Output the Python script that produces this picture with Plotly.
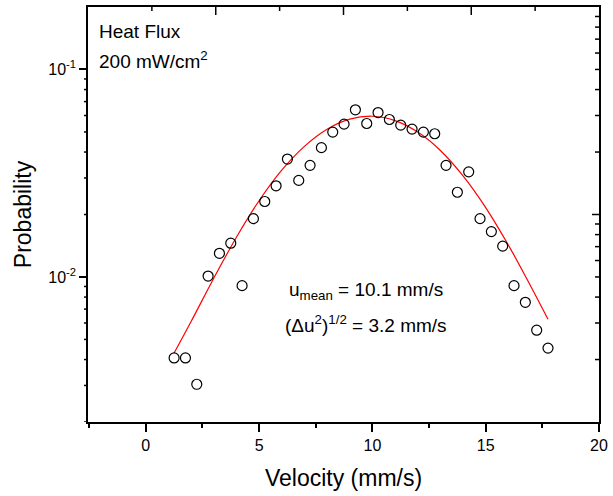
import plotly.graph_objects as go

# Measured data points (velocity in mm/s, probability)
velocity = [1.25, 1.75, 2.25, 2.75, 3.25, 3.75, 4.25, 4.75, 5.25, 5.75,
            6.25, 6.75, 7.25, 7.75, 8.25, 8.75, 9.25, 9.75, 10.25, 10.75,
            11.25, 11.75, 12.25, 12.75, 13.25, 13.75, 14.25, 14.75, 15.25, 15.75,
            16.25, 16.75, 17.25, 17.75]
probability = [0.00407, 0.00407, 0.00304, 0.0101, 0.0130, 0.01455, 0.00908, 0.0191, 0.0231, 0.0275,
               0.0370, 0.0292, 0.0345, 0.0420, 0.0499, 0.0545, 0.0639, 0.0549, 0.0620, 0.0574,
               0.0539, 0.0516, 0.0499, 0.0490, 0.0345, 0.0256, 0.0321, 0.0191, 0.01654, 0.01408,
               0.00908, 0.00755, 0.00554, 0.00454]

# Fitted curve
fit_velocity = [1.25, 2, 3, 4, 5, 6, 7, 8, 9, 10, 11, 12, 13, 14, 15, 16, 17, 17.75]
fit_probability = [0.0043, 0.0061, 0.00986, 0.01555, 0.0233, 0.0327, 0.0426, 0.0515, 0.0576,
                   0.0595, 0.0567, 0.0499, 0.0407, 0.0307, 0.0216, 0.01425, 0.00897, 0.00625]

x_tick_vals = [0, 5, 10, 15, 20]
x_tick_text = ["0", "5", "10", "15", "20"]
x_minor_vals = [-2.5, 2.5, 7.5, 12.5, 17.5]
y_tick_vals = [0.01, 0.1]
y_tick_text = ["10<sup>-2</sup>", "10<sup>-1</sup>"]
y_minor_vals = [0.002, 0.003, 0.004, 0.005, 0.006, 0.007, 0.008, 0.009,
                0.02, 0.03, 0.04, 0.05, 0.06, 0.07, 0.08, 0.09]
# mirrored (top / right) frame ticks: the original's mirror axes are offset
top_scale_max = 4                      # top frame runs 0..4 in its own units
top_major_vals = [1, 2, 3]
top_minor_vals = [0.5, 1.5, 2.5, 3.5]
right_offset = 2                       # right frame decades are shifted by a factor of 2
right_major_vals = [0.01]
right_minor_vals = [0.002, 0.003, 0.004, 0.005, 0.006, 0.007, 0.008, 0.009,
                    0.02, 0.03, 0.04, 0.05, 0.06, 0.07, 0.08, 0.09]

FONT = "Arial, 'Liberation Sans', sans-serif"
Y_RANGE = [-2.69897, -0.69897]
TICK_LINE = dict(color="black", width=1.5)

fig = go.Figure()
fig.add_trace(go.Scatter(
    x=fit_velocity, y=fit_probability, mode="lines",
    line=dict(color="#ff0000", width=1.2, shape="spline", smoothing=1.0),
    showlegend=False, hoverinfo="skip"))
fig.add_trace(go.Scatter(
    x=velocity, y=probability, mode="markers",
    marker=dict(symbol="circle-open", size=10, color="black", line=dict(width=1.2, color="black")),
    showlegend=False))

line_style = dict(showline=True, mirror=True, linecolor="black", linewidth=1.6,
                  showgrid=False, zeroline=False, tickcolor="black", tickwidth=1.5)

fig.update_layout(
    width=613, height=496,
    margin=dict(l=88, r=10, t=5, b=74),
    paper_bgcolor="white", plot_bgcolor="white",
    font=dict(family=FONT, color="black"),
    xaxis=dict(range=[-2.55, 20], tickmode="array", tickvals=x_tick_vals,
               ticktext=x_tick_text, ticks="outside", ticklen=8,
               minor=dict(tickmode="array", tickvals=x_minor_vals,
                          ticks="outside", ticklen=4, tickwidth=1.5, tickcolor="black"),
               tickfont=dict(size=16, family=FONT),
               title=dict(text="Velocity (mm/s)", font=dict(size=23, family=FONT), standoff=17),
               **line_style),
    yaxis=dict(type="log", range=Y_RANGE, tickmode="array",
               tickvals=y_tick_vals, ticktext=y_tick_text,
               ticks="outside", ticklen=7,
               tickfont=dict(size=16, family=FONT),
               title=dict(text="Probability", font=dict(size=23, family=FONT), standoff=10),
               **line_style),
)

# left minor ticks (outside)
for v in y_minor_vals:
    fig.add_shape(type="line", xref="paper", yref="y", xsizemode="pixel", xanchor=0,
                  x0=-4, x1=0, y0=v, y1=v, line=TICK_LINE, layer="above")
# right frame ticks (inside), shifted decades
for v, ln in [(v, 7) for v in right_major_vals] + [(v, 4) for v in right_minor_vals]:
    fig.add_shape(type="line", xref="paper", yref="y", xsizemode="pixel", xanchor=1,
                  x0=-ln, x1=0, y0=v * right_offset, y1=v * right_offset,
                  line=TICK_LINE, layer="above")
# top frame ticks (inside)
for v, ln in [(v, 8) for v in top_major_vals] + [(v, 4) for v in top_minor_vals]:
    fig.add_shape(type="line", xref="paper", yref="paper", ysizemode="pixel", yanchor=1,
                  x0=v / top_scale_max, x1=v / top_scale_max, y0=-ln, y1=0,
                  line=TICK_LINE, layer="above")

ann_font = dict(size=19, family=FONT, color="black")
fig.add_annotation(text="Heat Flux", xref="paper", yref="paper", x=0.0175, y=0.940,
                   xanchor="left", yanchor="middle", showarrow=False, font=ann_font)
fig.add_annotation(text="200 mW/cm<sup>2</sup>", xref="paper", yref="paper", x=0.0175, y=0.873,
                   xanchor="left", yanchor="middle", showarrow=False, font=ann_font)
fig.add_annotation(text="u<sub>mean</sub> = 10.1 mm/s", xref="paper", yref="paper", x=0.544, y=0.3165,
                   xanchor="center", yanchor="middle", showarrow=False, font=ann_font)
fig.add_annotation(text="(\u0394u<sup>2</sup>)<sup>1/2</sup> = 3.2 mm/s", xref="paper", yref="paper",
                   x=0.544, y=0.236, xanchor="center", yanchor="middle", showarrow=False, font=ann_font)

fig.write_html("out.html")
